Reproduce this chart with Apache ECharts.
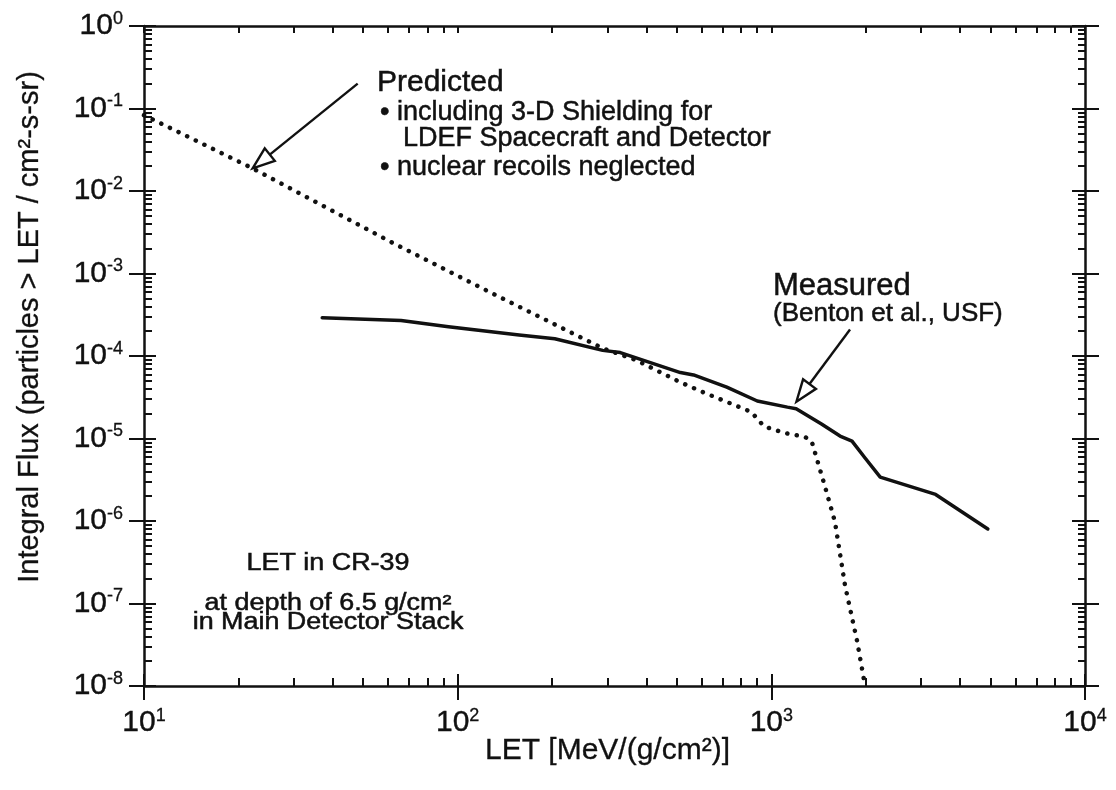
<!DOCTYPE html>
<html>
<head>
<meta charset="utf-8">
<script src="https://cdn.jsdelivr.net/npm/echarts@6/dist/echarts.min.js"></script>
<style>
  html, body { margin: 0; padding: 0; background: #fff; }
  #chart { width: 1116px; height: 790px; }
</style>
</head>
<body>
<div id="chart"></div>
<script>
// ---- data ----
const predX = [10, 22.2, 61.4, 126, 290, 371, 513, 610, 863, 948, 1100, 1276, 1343, 1396, 1479, 1595, 1718, 1877, 1990];
const predY = [0.083, 0.0188, 2.4e-3, 6.0e-4, 1.24e-4, 8.9e-5, 4.8e-5, 3.6e-5, 2.1e-5, 1.4e-5, 1.17e-5, 1.05e-5, 9.4e-6, 5.7e-6, 2.7e-6, 9.8e-7, 1.65e-7, 3.5e-8, 1e-8];

const measX = [37, 66, 93.5, 157, 204, 290, 330, 513, 565, 721, 902, 1125, 1200, 1445, 1656, 1808, 1990, 2224, 3340, 4900];
const measY = [2.9e-4, 2.7e-4, 2.26e-4, 1.8e-4, 1.62e-4, 1.17e-4, 1.1e-4, 6.3e-5, 5.9e-5, 4.2e-5, 2.85e-5, 2.4e-5, 2.3e-5, 1.5e-5, 1.07e-5, 9.3e-6, 5.8e-6, 3.4e-6, 2.1e-6, 8e-7];

const xTickValues = [10, 100, 1000, 10000];
const yTickValues = [1e-8, 1e-7, 1e-6, 1e-5, 1e-4, 1e-3, 1e-2, 1e-1, 1];

const xAxisName = 'LET [MeV/(g/cm²)]';
const yAxisName = 'Integral Flux (particles > LET / cm²-s-sr)';

const predictedTitle = 'Predicted';
const predictedNotes = ['• including 3-D Shielding for', 'LDEF Spacecraft and Detector', '• nuclear recoils neglected'];
const measuredTitle = 'Measured';
const measuredNote = '(Benton et al., USF)';
const conditionNotes = ['LET in CR-39', 'at depth of 6.5 g/cm²', 'in Main Detector Stack'];

// arrow anchors in data coordinates [LET, flux]
const predictedArrow = { from: [48, 0.2], to: [22.2, 0.0188] };
const measuredArrow = { from: [1782, 2.1e-4], to: [1202, 2.79e-5] };

// ---- helpers ----
const FONT = "'Liberation Sans', Arial, Helvetica, sans-serif";
const INK = '#111';

function minorsOf(majors) {
  const out = [];
  for (let i = 0; i < majors.length - 1; i++) {
    for (let k = 2; k <= 9; k++) out.push(+(majors[i] * k).toPrecision(6));
  }
  return out;
}
const xMinor = minorsOf(xTickValues);
const yMinor = minorsOf(yTickValues);

function expLabel(v) {
  const e = Math.round(Math.log10(v));
  return '{b|10}{s|' + e + '}';
}
const richLabel = {
  b: { fontSize: 30, fontFamily: FONT, color: INK, lineHeight: 32, textBorderColor: INK, textBorderWidth: 0.4 },
  s: { fontSize: 18, fontFamily: FONT, color: INK, lineHeight: 14, verticalAlign: 'top', textBorderColor: INK, textBorderWidth: 0.3 }
};

function axisBase(type, extra) {
  return Object.assign({
    type: 'log', logBase: 10,
    min: type === 'x' ? 10 : 1e-8,
    max: type === 'x' ? 10000 : 1,
    axisLine: { show: false, onZero: false },
    axisLabel: { show: false },
    splitLine: { show: false },
    minorTick: { show: false },
    axisPointer: { show: false },
    silent: true
  }, extra);
}
const lineSt = { color: INK, width: 2.5 };
const tickSt = { color: INK, width: 2 };

const xAxes = [
  axisBase('x', {
    position: 'bottom',
    axisLine: { show: true, onZero: false, lineStyle: lineSt },
    axisTick: { show: true, inside: true, length: 12, customValues: xTickValues, lineStyle: tickSt },
    axisLabel: { show: true, customValues: xTickValues, formatter: expLabel, rich: richLabel, margin: 21 },
    name: xAxisName, nameLocation: 'middle', nameGap: 50, nameMoveOverlap: false,
    nameTextStyle: { fontSize: 30, fontFamily: FONT, color: INK, padding: [0, 14, 0, 0], textBorderColor: INK, textBorderWidth: 0.3 }
  }),
  axisBase('x', { position: 'bottom', axisTick: { show: true, inside: false, length: 14, customValues: xTickValues, lineStyle: tickSt } }),
  axisBase('x', { position: 'bottom', axisTick: { show: true, inside: true, length: 8, customValues: xMinor, lineStyle: tickSt } }),
  axisBase('x', {
    position: 'top',
    axisLine: { show: true, onZero: false, lineStyle: lineSt },
    axisTick: { show: true, inside: true, length: 7, customValues: xMinor.concat(xTickValues), lineStyle: tickSt }
  })
];

const yAxes = [
  axisBase('y', {
    position: 'left',
    axisLine: { show: true, onZero: false, lineStyle: lineSt },
    axisTick: { show: true, inside: true, length: 12, customValues: yTickValues, lineStyle: tickSt },
    axisLabel: { show: true, customValues: yTickValues, formatter: expLabel, rich: richLabel, margin: 21 },
    name: yAxisName, nameLocation: 'middle', nameGap: 100, nameRotate: 90, nameMoveOverlap: false,
    nameTextStyle: { fontSize: 29, fontFamily: FONT, color: INK, padding: [0, 0, 0, 58], textBorderColor: INK, textBorderWidth: 0.3 }
  }),
  axisBase('y', { position: 'left', axisTick: { show: true, inside: false, length: 15, customValues: yTickValues, lineStyle: tickSt } }),
  axisBase('y', { position: 'left', axisTick: { show: true, inside: true, length: 8, customValues: yMinor, lineStyle: tickSt } }),
  axisBase('y', {
    position: 'right',
    axisLine: { show: true, onZero: false, lineStyle: lineSt },
    axisTick: { show: true, inside: true, length: 13, customValues: yTickValues, lineStyle: tickSt }
  }),
  axisBase('y', { position: 'right', axisTick: { show: true, inside: false, length: 14, customValues: yTickValues, lineStyle: tickSt } }),
  axisBase('y', { position: 'right', axisTick: { show: true, inside: true, length: 7, customValues: yMinor, lineStyle: tickSt } })
];

const chart = echarts.init(document.getElementById('chart'), null, { renderer: 'canvas' });

chart.setOption({
  animation: false,
  backgroundColor: '#fff',
  grid: { left: 144, right: 31, top: 26, bottom: 104, containLabel: false },
  xAxis: xAxes,
  yAxis: yAxes,
  series: [
    {
      name: 'Predicted', type: 'line', xAxisIndex: 0, yAxisIndex: 0,
      data: predX.map((x, i) => [x, predY[i]]),
      symbol: 'none', smooth: false, silent: true,
      lineStyle: { color: INK, width: 4.5, type: [0.1, 9.5], cap: 'round', join: 'round' }
    },
    {
      name: 'Measured', type: 'line', xAxisIndex: 0, yAxisIndex: 0,
      data: measX.map((x, i) => [x, measY[i]]),
      symbol: 'none', smooth: false, silent: true,
      lineStyle: { color: INK, width: 3.5, join: 'round', cap: 'round' }
    }
  ]
});

// ---- annotations ----
function px(pt) { return chart.convertToPixel({ xAxisIndex: 0, yAxisIndex: 0 }, pt); }
function arrowGraphics(a) {
  const p0 = px(a.from), p1 = px(a.to);
  const dx = p1[0] - p0[0], dy = p1[1] - p0[1];
  const len = Math.hypot(dx, dy);
  const ux = dx / len, uy = dy / len;
  const L = 22, W = 8;
  const bx = p1[0] - ux * L, by = p1[1] - uy * L;
  return [
    { type: 'line', silent: true, shape: { x1: p0[0], y1: p0[1], x2: bx, y2: by }, style: { stroke: INK, lineWidth: 2.4 } },
    { type: 'polygon', silent: true, shape: { points: [[p1[0], p1[1]], [bx - uy * W, by + ux * W], [bx + uy * W, by - ux * W]] },
      style: { fill: '#fff', stroke: INK, lineWidth: 2.4 } }
  ];
}
function txt(text, x, baseline, size, align, sx) {
  const g = { type: 'text', silent: true, x: x, y: baseline - 0.35 * size,
    style: { text: text, fontSize: size, fontFamily: FONT, fill: INK, align: align || 'left', verticalAlign: 'middle',
             stroke: INK, lineWidth: 0.5 } };
  if (sx) g.scaleX = sx;
  return g;
}

const graphics = []
  .concat(arrowGraphics(predictedArrow))
  .concat(arrowGraphics(measuredArrow))
  .concat([
    txt(predictedTitle, 377, 93, 30),
    txt(predictedNotes[0], 380, 122, 27),
    txt(predictedNotes[1], 403, 148, 27),
    txt(predictedNotes[2], 380, 177, 27),
    txt(measuredTitle, 773, 297, 31),
    txt(measuredNote, 773, 323, 26),
    txt(conditionNotes[0], 328, 572, 23, 'center', 1.17),
    txt(conditionNotes[1], 328, 612, 23, 'center', 1.17),
    txt(conditionNotes[2], 328, 631, 23, 'center', 1.17)
  ]);

chart.setOption({ graphic: graphics });
</script>
</body>
</html>
